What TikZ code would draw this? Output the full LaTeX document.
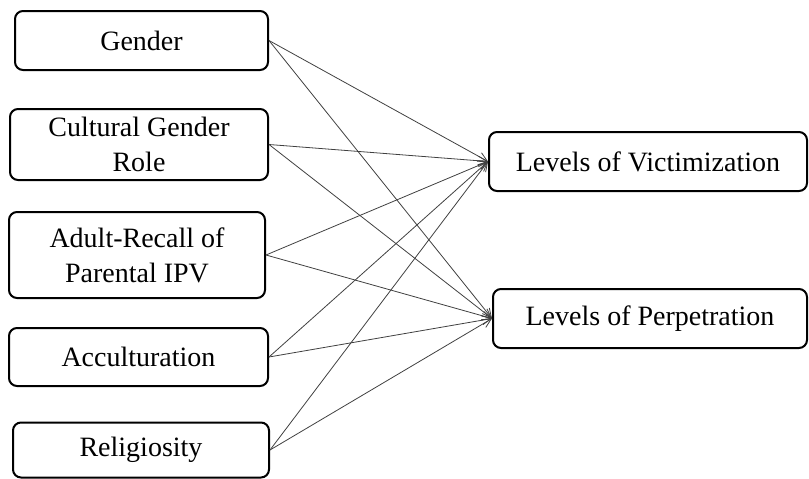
\documentclass[tikz,border=0pt]{standalone}
\usepackage{fontspec}
\setmainfont{Liberation Serif}
\usetikzlibrary{arrows.meta}
\tikzset{
    varbox/.style={draw, line width=2pt, rounded corners=8pt, inner sep=0pt, align=center,
        font=\fontsize{28}{35}\selectfont},
    link/.style={-{Straight Barb[length=9pt,width=9pt]}, line width=0.8pt, draw=black!75}
}
\begin{document}
\begin{tikzpicture}[x=1pt, y=-1pt]
    \useasboundingbox (0,0) rectangle (809,479);
    % Left-hand boxes
    \node[varbox, minimum width=253pt, minimum height=59pt] (gender) at (141.5,40.5) {Gender};
    \node[varbox, minimum width=258pt, minimum height=71pt] (culture) at (139,144.5) {Cultural Gender\\Role};
    \node[varbox, minimum width=256pt, minimum height=86pt] (recall) at (137,255) {Adult-Recall of\\Parental IPV};
    \node[varbox, minimum width=259pt, minimum height=58pt] (accult) at (138.5,357) {Acculturation};
    \node[varbox, minimum width=256pt, minimum height=55pt] (relig) at (141,450) {Religiosity};
    % Right-hand boxes
    \node[varbox, minimum width=318pt, minimum height=59pt] (victim) at (648,161.5) {Levels of Victimization};
    \node[varbox, minimum width=314pt, minimum height=59pt] (perp) at (650,318.5) {Levels of Perpetration};
    % Paths
    \draw[link] (gender.east) -- (victim.west);
    \draw[link] (gender.east) -- (perp.west);
    \draw[link] (culture.east) -- (victim.west);
    \draw[link] (culture.east) -- (perp.west);
    \draw[link] (recall.east) -- (victim.west);
    \draw[link] (recall.east) -- (perp.west);
    \draw[link] (accult.east) -- (victim.west);
    \draw[link] (accult.east) -- (perp.west);
    \draw[link] (relig.east) -- (victim.west);
    \draw[link] (relig.east) -- (perp.west);
\end{tikzpicture}
\end{document}
